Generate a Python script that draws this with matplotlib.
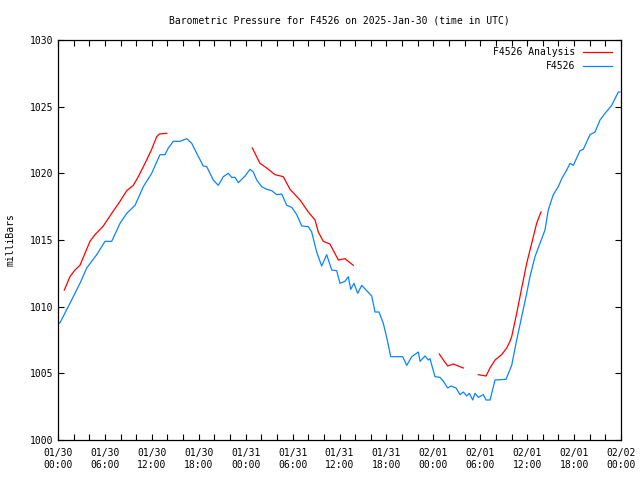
import numpy as np
import matplotlib
matplotlib.use("Agg")
import matplotlib.pyplot as plt
from matplotlib.ticker import MultipleLocator

# hours since 2025-01-30 00:00 UTC, pressure in mb
obs_hours = [0.0, 0.26, 1.53, 2.81, 3.67, 4.95, 6.01, 6.87, 7.93, 8.79, 9.85, 10.91, 11.98,
             13.04, 13.68, 14.11, 14.75, 15.60, 16.46, 17.10, 17.74, 18.58, 19.02, 19.86,
             20.50, 21.14, 21.78, 22.21, 22.64, 23.06, 23.92, 24.55, 24.98, 25.41, 26.05,
             26.69, 27.33, 27.97, 28.61, 29.25, 29.89, 30.53, 31.17, 32.01, 32.44, 33.08,
             33.72, 34.36, 35.00, 35.64, 36.06, 36.70, 37.13, 37.43, 37.86, 38.33, 38.84,
             39.48, 40.12, 40.54, 41.05, 41.60, 42.11, 42.55, 44.08, 44.60, 45.24, 46.08,
             46.30, 46.94, 47.36, 47.57, 48.21, 48.85, 49.28, 49.84, 50.26, 50.90, 51.41,
             51.83, 52.27, 52.60, 53.04, 53.33, 53.75, 54.39, 54.74, 55.25, 55.89, 57.29,
             58.02, 58.66, 59.30, 59.94, 60.36, 61.00, 61.64, 62.28, 62.70, 63.34, 63.98,
             64.42, 65.06, 65.48, 65.90, 66.76, 67.18, 68.04, 68.68, 69.32, 69.96, 70.81,
             71.23, 71.66, 71.87]
obs_mb = [1008.7, 1008.8, 1010.25, 1011.75, 1012.9, 1013.9, 1014.9, 1014.9, 1016.25, 1017.0,
          1017.6, 1019.0, 1020.0, 1021.4, 1021.4, 1021.9, 1022.4, 1022.4, 1022.6, 1022.25,
          1021.5, 1020.55, 1020.5, 1019.5, 1019.1, 1019.75, 1020.0, 1019.7, 1019.7, 1019.3,
          1019.8, 1020.3, 1020.1, 1019.5, 1019.0, 1018.8, 1018.7, 1018.4, 1018.45, 1017.6,
          1017.45, 1016.9, 1016.05, 1016.0, 1015.6, 1014.1, 1013.05, 1013.9, 1012.75, 1012.7,
          1011.75, 1011.9, 1012.25, 1011.3, 1011.75, 1011.0, 1011.6, 1011.2, 1010.8, 1009.6,
          1009.6, 1008.75, 1007.5, 1006.25, 1006.25, 1005.6, 1006.25, 1006.6, 1005.9, 1006.3,
          1006.0, 1006.1, 1004.75, 1004.7, 1004.4, 1003.9, 1004.05, 1003.9, 1003.4, 1003.6,
          1003.3, 1003.5, 1003.0, 1003.5, 1003.2, 1003.4, 1003.0, 1003.0, 1004.5, 1004.55,
          1005.6, 1007.5, 1009.25, 1011.0, 1012.25, 1013.75, 1014.75, 1015.75, 1017.25, 1018.4,
          1019.0, 1019.6, 1020.25, 1020.75, 1020.6, 1021.7, 1021.8, 1022.9, 1023.1, 1024.0,
          1024.5, 1025.1, 1025.6, 1026.1, 1026.1]

# analysis, NaN marks the gaps
ana_hours = [0.81, 1.53, 2.17, 2.81, 3.45, 4.09, 4.73, 5.79, 6.87, 7.93, 8.79, 9.63, 10.27,
             11.13, 11.98, 12.62, 12.96, 13.90, 14.0,
             24.85, 25.83, 26.69, 27.75, 28.81, 29.67, 30.95, 32.01, 32.87, 33.29, 33.93,
             34.78, 35.85, 36.70, 37.76, 37.9,
             48.76, 49.28, 49.84, 50.55, 51.19, 51.83, 52.0,
             53.75, 54.74, 55.25, 55.89, 56.74, 57.38, 57.80, 58.02, 58.66, 59.30, 59.94,
             60.58, 61.21, 61.77]
ana_mb = [1011.25, 1012.25, 1012.75, 1013.1, 1014.0, 1014.9, 1015.4, 1016.05, 1017.0, 1017.9,
          1018.7, 1019.1, 1019.75, 1020.75, 1021.8, 1022.75, 1022.95, 1023.0, np.nan,
          1021.9, 1020.75, 1020.4, 1019.9, 1019.75, 1018.8, 1018.0, 1017.1, 1016.5, 1015.6,
          1014.9, 1014.7, 1013.5, 1013.6, 1013.1, np.nan,
          1006.45, 1006.0, 1005.55, 1005.7, 1005.55, 1005.4, np.nan,
          1004.9, 1004.8, 1005.4, 1006.0, 1006.4, 1006.9, 1007.4, 1007.75, 1009.5, 1011.4,
          1013.25, 1014.75, 1016.25, 1017.1]

tick_hours = list(range(0, 73, 6))
tick_labels = ["01/30\n00:00", "01/30\n06:00", "01/30\n12:00", "01/30\n18:00",
               "01/31\n00:00", "01/31\n06:00", "01/31\n12:00", "01/31\n18:00",
               "02/01\n00:00", "02/01\n06:00", "02/01\n12:00", "02/01\n18:00",
               "02/02\n00:00"]

plt.rcParams['font.family'] = ['DejaVu Sans Mono']
plt.rcParams['font.size'] = 7

fig = plt.figure(figsize=(6.4, 4.8), dpi=100)
ax = fig.add_axes([58/640, 40/480, 563/640, 400/480])

ax.plot(ana_hours, ana_mb, color='#ff0000', lw=0.9, label='F4526 Analysis')
ax.plot(obs_hours, obs_mb, color='#0a84ff', lw=0.9, label='F4526')

ax.set_xlim(0, 72)
ax.set_ylim(1000, 1030)
ax.set_xticks(tick_hours)
ax.set_xticklabels(tick_labels)
ax.xaxis.set_minor_locator(MultipleLocator(2))
ax.yaxis.set_major_locator(MultipleLocator(5))
ax.tick_params(which='both', direction='in', top=True, right=True, length=4, width=0.8)
ax.tick_params(axis='x', pad=6)
for s in ax.spines.values():
    s.set_linewidth(0.9)

ax.set_ylabel('milliBars', labelpad=10)
ax.set_title('Barometric Pressure for F4526 on 2025-Jan-30 (time in UTC)', fontsize=7, pad=12)

ax.legend(loc='upper right', frameon=False, markerfirst=False, handlelength=3.0,
          handletextpad=0.8, labelspacing=0.45, borderaxespad=0.2,
          bbox_to_anchor=(0.995, 0.997))

fig.savefig('out.png', dpi=100)
